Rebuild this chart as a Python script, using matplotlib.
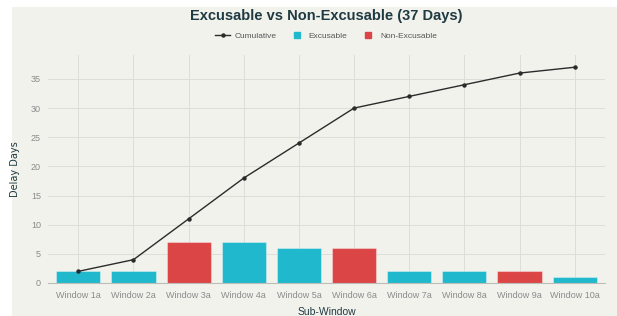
import matplotlib.pyplot as plt
from matplotlib.lines import Line2D
from matplotlib.patches import Rectangle

windows = ["Window 1a", "Window 2a", "Window 3a", "Window 4a", "Window 5a",
           "Window 6a", "Window 7a", "Window 8a", "Window 9a", "Window 10a"]
delay_days = [2, 2, 7, 7, 6, 6, 2, 2, 2, 1]
excusable = [True, True, False, True, True, False, True, True, False, True]
cumulative = [2, 4, 11, 18, 24, 30, 32, 34, 36, 37]

CYAN = "#1FB8CD"
RED = "#DB4545"
BG = "#F2F2ED"
DARK = "#1F3A42"

plt.rcParams['font.family'] = ['Liberation Sans', 'DejaVu Sans']

fig = plt.figure(figsize=(6.17, 3.16), dpi=100)
fig.patch.set_facecolor("white")
# off-white panel behind the chart, white strip on the left/top
fig.patches.append(Rectangle((12 / 617, -0.01), 1, 1.01 - 7 / 316, transform=fig.transFigure,
                             facecolor=BG, edgecolor="none", zorder=-10))

ax = fig.add_axes([48 / 617, 1 - 283 / 316, (605 - 48) / 617, (283 - 55) / 316])
ax.set_facecolor(BG)

x = range(len(windows))
colors = [CYAN if e else RED for e in excusable]
ax.bar(x, delay_days, width=0.8, color=colors, edgecolor=(1, 1, 1, 0.35),
       linewidth=0.8, zorder=2)
ax.plot(x, cumulative, color="#2b2b2b", linewidth=1.0, marker="o", markersize=2.2,
        zorder=3)

ax.set_xlim(-0.55, len(windows) - 0.45)
ax.set_ylim(0, 39.1)
ax.set_yticks(range(0, 40, 5))
ax.set_xticks(list(x))
ax.set_xticklabels(windows)
ax.tick_params(axis="both", length=0, labelsize=6.5, labelcolor="#8a8a8a")
ax.tick_params(axis="x", pad=6)
ax.tick_params(axis="y", pad=5)
ax.grid(True, color="#DEDED9", linewidth=0.7, zorder=0)
for s in ["top", "right", "left"]:
    ax.spines[s].set_visible(False)
ax.spines["bottom"].set_color("#BDBDB8")
ax.spines["bottom"].set_linewidth(0.8)
ax.spines["bottom"].set_zorder(4)

ax.set_xlabel("Sub-Window", fontsize=7.5, color=DARK, labelpad=5)
ax.set_ylabel("Delay Days", fontsize=7, color=DARK, labelpad=8,
              family=['Liberation Sans Narrow', 'DejaVu Sans'])

fig.text(326 / 617, 1 - 16 / 316, "Excusable vs Non-Excusable (37 Days)",
         ha="center", va="center", fontsize=10.5, fontweight="bold", color=DARK)

handles = [Line2D([0], [0], color="#2b2b2b", lw=1.0, marker="o", markersize=2.2),
           Line2D([0], [0], color=CYAN, lw=0, marker="s", markersize=5),
           Line2D([0], [0], color=RED, lw=0, marker="s", markersize=5)]
fig.legend(handles, ["Cumulative", "Excusable", "Non-Excusable"],
           loc="center", bbox_to_anchor=(326 / 617, 1 - 36 / 316), ncol=3,
           frameon=False, fontsize=6, labelcolor="#555555", handlelength=1.8,
           columnspacing=1.6, handletextpad=0.5)

fig.savefig("out.png", dpi=100, facecolor=fig.get_facecolor())
